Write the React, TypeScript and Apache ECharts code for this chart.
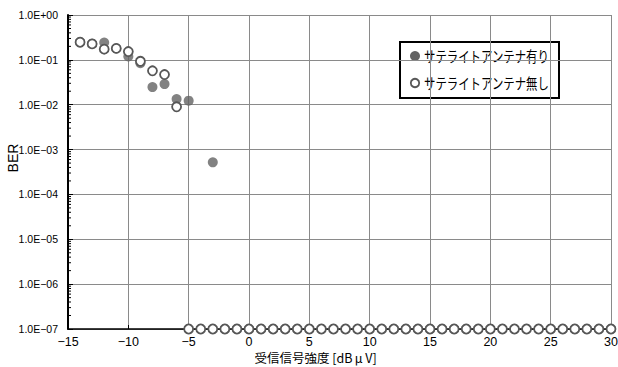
import React, { useEffect, useRef } from "react";
import * as echarts from "echarts";

const withAntennaX = [-14, -13, -12, -11, -10, -9, -8, -7, -6, -5, -3,
  -2, -1, 0, 1, 2, 3, 4, 5, 6, 7, 8, 9, 10, 11, 12, 13, 14, 15, 16, 17, 18, 19, 20, 21, 22, 23, 24, 25, 26, 27, 28, 29, 30];
const withAntennaY = [0.25, 0.23, 0.243, 0.18, 0.119, 0.084, 0.0247, 0.0288, 0.0134, 0.0123, 0.00052,
  1e-7, 1e-7, 1e-7, 1e-7, 1e-7, 1e-7, 1e-7, 1e-7, 1e-7, 1e-7, 1e-7, 1e-7, 1e-7, 1e-7, 1e-7, 1e-7, 1e-7, 1e-7, 1e-7, 1e-7, 1e-7, 1e-7, 1e-7, 1e-7, 1e-7, 1e-7, 1e-7, 1e-7, 1e-7, 1e-7, 1e-7, 1e-7, 1e-7];

const withoutAntennaX = [-14, -13, -12, -11, -10, -9, -8, -7, -6,
  -5, -4, -3, -2, -1, 0, 1, 2, 3, 4, 5, 6, 7, 8, 9, 10, 11, 12, 13, 14, 15, 16, 17, 18, 19, 20, 21, 22, 23, 24, 25, 26, 27, 28, 29, 30];
const withoutAntennaY = [0.247, 0.227, 0.173, 0.18, 0.153, 0.093, 0.057, 0.047, 0.009,
  1e-7, 1e-7, 1e-7, 1e-7, 1e-7, 1e-7, 1e-7, 1e-7, 1e-7, 1e-7, 1e-7, 1e-7, 1e-7, 1e-7, 1e-7, 1e-7, 1e-7, 1e-7, 1e-7, 1e-7, 1e-7, 1e-7, 1e-7, 1e-7, 1e-7, 1e-7, 1e-7, 1e-7, 1e-7, 1e-7, 1e-7, 1e-7, 1e-7, 1e-7, 1e-7, 1e-7];

const seriesNames = ["サテライトアンテナ有り", "サテライトアンテナ無し"];
const xMin = -15;
const xMax = 30;
const xInterval = 5;
const yMin = 1e-7;
const yMax = 1;
const minorMultipliers = [2, 3, 4, 5, 6, 7, 8, 9];
const decades = [-7, -6, -5, -4, -3, -2, -1];

const minorTickValues: number[] = [];
decades.forEach((d) => minorMultipliers.forEach((m) => minorTickValues.push(m * Math.pow(10, d))));

const fmtY = (v: number) => {
  const e = Math.round(Math.log10(v));
  const s = e >= 0 ? "+" : "\u2212";
  const a = Math.abs(e);
  return `1.0E${s}${a < 10 ? "0" + a : a}`;
};

const fontJP = "'Noto Sans CJK JP', 'Liberation Sans', sans-serif";
const fontNum = "'Liberation Sans', 'DejaVu Sans', sans-serif";
const filledColor = "#636363";
const openStroke = "#575757";

export default function App() {
  const ref = useRef<HTMLDivElement>(null);
  useEffect(() => {
    if (!ref.current) return;
    const chart = echarts.init(ref.current, null, { renderer: "svg" });
    chart.setOption({
      animation: false,
      backgroundColor: "#fff",
      grid: { left: 68, right: 7, top: 15, bottom: 38, outerBoundsMode: "none", containLabel: false },
      xAxis: {
        type: "value",
        min: xMin,
        max: xMax,
        interval: xInterval,
        name: "受信信号強度 [dB\u2009μ\u2009V]",
        nameLocation: "middle",
        nameMoveOverlap: false,
        nameGap: 22,
        nameTextStyle: { fontFamily: fontJP, fontSize: 12.5, lineHeight: 13, color: "#000", padding: [0, 48, 0, 0] },
        axisLine: { show: true, onZero: false, lineStyle: { color: "#000", width: 1.5 } },
        axisTick: { show: true, inside: true, length: 4, lineStyle: { color: "#000" } },
        axisLabel: {
          fontFamily: fontNum,
          fontSize: 12.5,
          lineHeight: 13,
          color: "#000",
          margin: 6,
          formatter: (v: number) => String(v).replace("-", "\u2212"),
        },
        splitLine: { show: true, lineStyle: { color: "#8a8a8a", width: 1 } },
      },
      yAxis: {
        type: "log",
        logBase: 10,
        min: yMin,
        max: yMax,
        name: "BER",
        nameLocation: "middle",
        nameMoveOverlap: false,
        nameGap: 48,
        nameTextStyle: { fontFamily: fontNum, fontSize: 14, color: "#000", padding: [0, 0, 0, 28] },
        axisLine: { show: true, onZero: false, lineStyle: { color: "#000", width: 2 } },
        axisTick: { show: true, inside: true, length: 5, lineStyle: { color: "#000" } },
        axisLabel: { fontFamily: fontNum, fontSize: 10.5, color: "#000", margin: 10, formatter: fmtY },
        splitLine: { show: true, lineStyle: { color: "#8a8a8a", width: 1 } },
      },
      legend: { show: false },
      graphic: [
        {
          type: "group",
          x: 400,
          y: 42,
          children: [
            { type: "rect", shape: { x: 0, y: 0, width: 159, height: 56 }, style: { fill: "#fff", stroke: "#000", lineWidth: 2 } },
            { type: "circle", shape: { cx: 15, cy: 14, r: 5 }, style: { fill: filledColor } },
            { type: "text", x: 24, y: 14, scaleX: 0.76, style: { text: seriesNames[0], fontFamily: fontJP, fontSize: 15, fill: "#000", verticalAlign: "middle" } },
            { type: "circle", shape: { cx: 15, cy: 41, r: 4.2 }, style: { fill: "#fff", stroke: openStroke, lineWidth: 1.8 } },
            { type: "text", x: 24, y: 41, scaleX: 0.76, style: { text: seriesNames[1], fontFamily: fontJP, fontSize: 15, fill: "#000", verticalAlign: "middle" } },
          ],
        },
      ],
      series: [
        {
          type: "custom",
          silent: true,
          clip: false,
          z: 3,
          data: minorTickValues.map((v) => [xMin, v]),
          renderItem: (params: any, api: any) => {
            const p = api.coord([api.value(0), api.value(1)]);
            return {
              type: "line",
              shape: { x1: p[0], y1: p[1], x2: p[0] + 3, y2: p[1] },
              style: { stroke: "#000", lineWidth: 1 },
            };
          },
        },
        {
          name: seriesNames[0],
          type: "scatter",
          clip: false,
          z: 4,
          symbol: "circle",
          symbolSize: 10,
          itemStyle: { color: filledColor, borderColor: filledColor, borderWidth: 0 },
          data: withAntennaX.map((x, i) => [x, withAntennaY[i]]),
        },
        {
          name: seriesNames[1],
          type: "scatter",
          clip: false,
          z: 5,
          symbol: "circle",
          symbolSize: 9,
          itemStyle: { color: "#fff", borderColor: openStroke, borderWidth: 1.8, opacity: 1 },
          data: withoutAntennaX.map((x, i) => [x, withoutAntennaY[i]]),
        },
      ],
    });
    return () => chart.dispose();
  }, []);
  return <div ref={ref} style={{ width: 618, height: 367, position: "absolute", left: 0, top: 0 }} />;
}
